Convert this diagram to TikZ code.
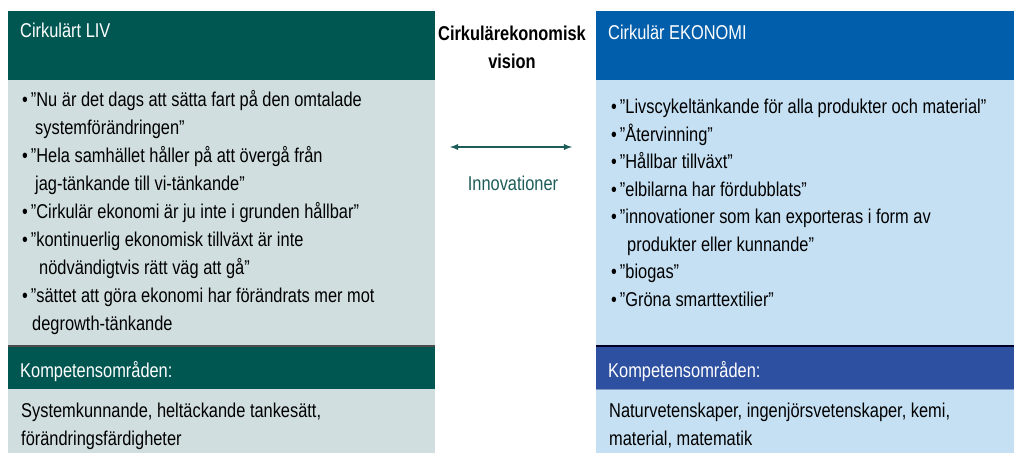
\documentclass[tikz,border=0pt]{standalone}
\usepackage{fontspec}
\setmainfont{Liberation Sans}[FakeStretch=0.82]
\usetikzlibrary{arrows}
\definecolor{livgreen}{HTML}{005752}
\definecolor{livlight}{HTML}{D0DEDF}
\definecolor{ekoblue}{HTML}{005EAA}
\definecolor{ekolight}{HTML}{C5E0F3}
\definecolor{kompblue}{HTML}{2E50A0}
\definecolor{innovgreen}{HTML}{1D5C57}
\tikzset{
  panel/.style={anchor=north west,inner sep=0pt,draw=none},
  headtext/.style={anchor=base west,inner sep=0pt,text=white,font=\fontsize{20}{24}\selectfont},
  listtext/.style={anchor=base west,inner sep=0pt,align=left,font=\fontsize{20}{28}\selectfont},
}
\begin{document}
\begin{tikzpicture}[x=1pt,y=-1pt,>=latex,line join=bevel]
\useasboundingbox (0,0) rectangle (1014,453);
%% panels
 \node (liv_head) at (8,11) [panel,fill=livgreen,minimum width=427pt,minimum height=69pt] {};
 \node (liv_body) at (8,80) [panel,fill=livlight,minimum width=427pt,minimum height=265pt] {};
 \node (liv_komp) at (8,347) [panel,fill=livgreen,minimum width=427pt,minimum height=42pt] {};
 \node (liv_kbody) at (8,389) [panel,fill=livlight,minimum width=427pt,minimum height=64pt] {};
 \node (eko_head) at (596,11) [panel,fill=ekoblue,minimum width=418pt,minimum height=69pt] {};
 \node (eko_body) at (596,80) [panel,fill=ekolight,minimum width=418pt,minimum height=265pt] {};
 \node (eko_komp) at (596,347) [panel,fill=kompblue,minimum width=418pt,minimum height=42pt] {};
 \node (eko_kbody) at (596,389) [panel,fill=ekolight,minimum width=418pt,minimum height=64pt] {};

  \draw [black!70,line width=2pt] ([yshift=-1pt]liv_body.south west) -- ([yshift=-1pt]liv_body.south east);
  \draw [black!85!blue,line width=2pt] ([yshift=-1pt]eko_body.south west) -- ([yshift=-1pt]eko_body.south east);
  \draw [kompblue!60!white,line width=1pt] (eko_kbody.north west) -- (eko_kbody.north east);
%% titles
 \node (liv_title) at (20,37) [headtext] {Cirkulärt LIV};
 \node (eko_title) at (608,39) [headtext] {Cirkulär EKONOMI};
 \node (vision) at (512,68) [anchor=base,inner sep=0pt,align=center,font=\fontsize{20}{28}\selectfont\bfseries] {Cirkulärekonomisk\\vision};
%% arrow
 \coordinate (arr_l) at (450,147);
 \coordinate (arr_r) at (572,147);
  \draw [innovgreen,line width=1.8pt,<->] (arr_l) -- (arr_r);
 \node (innov) at (513,190) [anchor=base,inner sep=0pt,text=innovgreen,font=\fontsize{20}{24}\selectfont] {Innovationer};
%% lists (anchored at the last line)
 \node (liv_list) at (22,330) [listtext] {•\hspace{3pt}”Nu är det dags att sätta fart på den omtalade\\
  \hspace{13pt}systemförändringen”\\
  •\hspace{3pt}”Hela samhället håller på att övergå från\\
  \hspace{13pt}jag-tänkande till vi-tänkande”\\
  •\hspace{3pt}”Cirkulär ekonomi är ju inte i grunden hållbar”\\
  •\hspace{3pt}”kontinuerlig ekonomisk tillväxt är inte\\
  \hspace{17pt}nödvändigtvis rätt väg att gå”\\
  •\hspace{3pt}”sättet att göra ekonomi har förändrats mer mot\\
  \hspace{10pt}degrowth-tänkande};
 \node (eko_list) at (611,306) [listtext,font=\fontsize{20}{27.5}\selectfont] {•\hspace{3pt}”Livscykeltänkande för alla produkter och material”\\
  •\hspace{3pt}”Återvinning”\\
  •\hspace{3pt}”Hållbar tillväxt”\\
  •\hspace{3pt}”elbilarna har fördubblats”\\
  •\hspace{3pt}”innovationer som kan exporteras i form av\\
  \hspace{16pt}produkter eller kunnande”\\
  •\hspace{3pt}”biogas”\\
  •\hspace{3pt}”Gröna smarttextilier”};
%% kompetens
 \node (liv_ktitle) at (20,377) [headtext] {Kompetensområden:};
 \node (eko_ktitle) at (608,377) [headtext] {Kompetensområden:};
 \node (liv_ktext) at (21,445) [listtext] {Systemkunnande, heltäckande tankesätt,\\förändringsfärdigheter};
 \node (eko_ktext) at (609,445) [listtext] {Naturvetenskaper, ingenjörsvetenskaper, kemi,\\material, matematik};
%
\end{tikzpicture}
\end{document}
